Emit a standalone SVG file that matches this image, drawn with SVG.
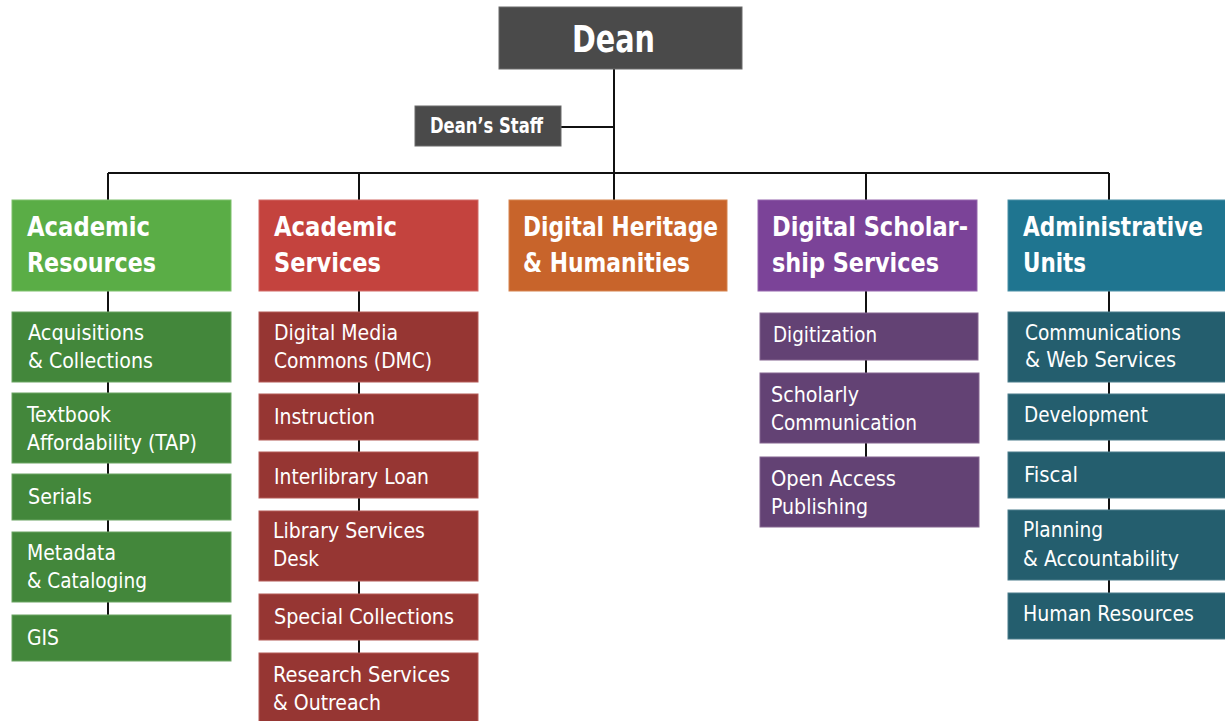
<svg xmlns="http://www.w3.org/2000/svg" width="1225" height="721" viewBox="0 0 1225 721">
<style>
text{font-family:"DejaVu Sans Condensed","Liberation Sans",sans-serif;fill:#ffffff}
.h{font-weight:bold;font-size:27px}
.s{font-size:21.5px}
.ln{stroke:#111111;stroke-width:2;fill:none}
.ar rect.sub{fill:#43873b;stroke:#6aa462}
.as rect.sub{fill:#963633;stroke:#b45a57}
.ds rect.sub{fill:#634274;stroke:#84658f}
.au rect.sub{fill:#245e6e;stroke:#4b7d8b}
</style>
<rect width="1225" height="721" fill="#ffffff"/>
<g id="connectors" class="ln">
<path d="M614 69V200M561 127H614M108 173H1109M108 173V615M359 173V653M866 173V457M1109 173V593"/>
</g>
<g id="dean"><rect x="499" y="7" width="243" height="62" fill="#4a4a4a" stroke="#6a6a6a"/><text x="572" y="52" textLength="83" lengthAdjust="spacingAndGlyphs" style="font-weight:bold;font-size:38px">Dean</text></g>
<g id="deans-staff"><rect x="415" y="106" width="146" height="40" fill="#4a4a4a" stroke="#6a6a6a"/><text x="430" y="133" textLength="113" lengthAdjust="spacingAndGlyphs" style="font-weight:bold;font-size:21.5px">Dean’s Staff</text></g>
<g id="academic-resources" class="ar">
<rect x="12" y="200" width="219" height="91" fill="#5aad46" stroke="#7cc06b"/><text class="h" x="27" y="236" textLength="123" lengthAdjust="spacingAndGlyphs">Academic</text><text class="h" x="27" y="272" textLength="129" lengthAdjust="spacingAndGlyphs">Resources</text>
</g>
<g id="acquisitions" class="ar"><rect class="sub" x="12" y="312" width="219" height="70"/><text class="s" x="28" y="340" textLength="116" lengthAdjust="spacingAndGlyphs">Acquisitions</text><text class="s" x="28" y="368" textLength="125" lengthAdjust="spacingAndGlyphs">&amp; Collections</text></g>
<g id="textbook" class="ar"><rect class="sub" x="12" y="393" width="219" height="70"/><text class="s" x="27" y="422" textLength="84" lengthAdjust="spacingAndGlyphs">Textbook</text><text class="s" x="27" y="450" textLength="170" lengthAdjust="spacingAndGlyphs">Affordability (TAP)</text></g>
<g id="serials" class="ar"><rect class="sub" x="12" y="474" width="219" height="46"/><text class="s" x="28" y="504" textLength="64" lengthAdjust="spacingAndGlyphs">Serials</text></g>
<g id="metadata" class="ar"><rect class="sub" x="12" y="532" width="219" height="70"/><text class="s" x="27" y="560" textLength="89" lengthAdjust="spacingAndGlyphs">Metadata</text><text class="s" x="27" y="588" textLength="120" lengthAdjust="spacingAndGlyphs">&amp; Cataloging</text></g>
<g id="gis" class="ar"><rect class="sub" x="12" y="615" width="219" height="46"/><text class="s" x="27" y="645" textLength="32" lengthAdjust="spacingAndGlyphs">GIS</text></g>

<g id="academic-services" class="as">
<rect x="259" y="200" width="219" height="91" fill="#c4433e" stroke="#d26a66"/><text class="h" x="274" y="236" textLength="123" lengthAdjust="spacingAndGlyphs">Academic</text><text class="h" x="274" y="272" textLength="107" lengthAdjust="spacingAndGlyphs">Services</text>
</g>
<g id="dmc" class="as"><rect class="sub" x="259" y="312" width="219" height="70"/><text class="s" x="274" y="340" textLength="124" lengthAdjust="spacingAndGlyphs">Digital Media</text><text class="s" x="274" y="368" textLength="158" lengthAdjust="spacingAndGlyphs">Commons (DMC)</text></g>
<g id="instruction" class="as"><rect class="sub" x="259" y="394" width="219" height="46"/><text class="s" x="274" y="424" textLength="101" lengthAdjust="spacingAndGlyphs">Instruction</text></g>
<g id="ill" class="as"><rect class="sub" x="259" y="452" width="219" height="46"/><text class="s" x="274" y="484" textLength="155" lengthAdjust="spacingAndGlyphs">Interlibrary Loan</text></g>
<g id="lsd" class="as"><rect class="sub" x="259" y="511" width="219" height="70"/><text class="s" x="273" y="538" textLength="152" lengthAdjust="spacingAndGlyphs">Library Services</text><text class="s" x="273" y="566" textLength="46" lengthAdjust="spacingAndGlyphs">Desk</text></g>
<g id="special" class="as"><rect class="sub" x="259" y="594" width="219" height="46"/><text class="s" x="274" y="624" textLength="180" lengthAdjust="spacingAndGlyphs">Special Collections</text></g>
<g id="research" class="as"><rect class="sub" x="259" y="653" width="219" height="72"/><text class="s" x="273" y="682" textLength="177" lengthAdjust="spacingAndGlyphs">Research Services</text><text class="s" x="273" y="710" textLength="108" lengthAdjust="spacingAndGlyphs">&amp; Outreach</text></g>

<g id="digital-heritage"><rect x="509" y="200" width="218" height="91" fill="#c8642b" stroke="#d6834f"/><text class="h" x="523" y="236" textLength="195" lengthAdjust="spacingAndGlyphs">Digital Heritage</text><text class="h" x="523" y="272" textLength="167" lengthAdjust="spacingAndGlyphs">&amp; Humanities</text></g>

<g id="digital-scholarship" class="ds">
<rect x="758" y="200" width="219" height="91" fill="#7b4398" stroke="#9567ad"/><text class="h" x="772" y="236" textLength="196" lengthAdjust="spacingAndGlyphs">Digital Scholar-</text><text class="h" x="772" y="272" textLength="167" lengthAdjust="spacingAndGlyphs">ship Services</text>
</g>
<g id="digitization" class="ds"><rect class="sub" x="760" y="313" width="218" height="47"/><text class="s" x="773" y="342" textLength="104" lengthAdjust="spacingAndGlyphs">Digitization</text></g>
<g id="scholarly" class="ds"><rect class="sub" x="760" y="373" width="219" height="70"/><text class="s" x="771" y="402" textLength="88" lengthAdjust="spacingAndGlyphs">Scholarly</text><text class="s" x="771" y="430" textLength="146" lengthAdjust="spacingAndGlyphs">Communication</text></g>
<g id="open-access" class="ds"><rect class="sub" x="760" y="457" width="219" height="70"/><text class="s" x="771" y="486" textLength="125" lengthAdjust="spacingAndGlyphs">Open Access</text><text class="s" x="771" y="514" textLength="97" lengthAdjust="spacingAndGlyphs">Publishing</text></g>

<g id="administrative" class="au">
<rect x="1008" y="200" width="222" height="91" fill="#1f7590" stroke="#4a90a6"/><text class="h" x="1023" y="236" textLength="180" lengthAdjust="spacingAndGlyphs">Administrative</text><text class="h" x="1023" y="272" textLength="63" lengthAdjust="spacingAndGlyphs">Units</text>
</g>
<g id="communications" class="au"><rect class="sub" x="1008" y="312" width="222" height="70"/><text class="s" x="1025" y="340" textLength="156" lengthAdjust="spacingAndGlyphs">Communications</text><text class="s" x="1025" y="367" textLength="151" lengthAdjust="spacingAndGlyphs">&amp; Web Services</text></g>
<g id="development" class="au"><rect class="sub" x="1008" y="394" width="222" height="46"/><text class="s" x="1024" y="422" textLength="124" lengthAdjust="spacingAndGlyphs">Development</text></g>
<g id="fiscal" class="au"><rect class="sub" x="1008" y="452" width="222" height="46"/><text class="s" x="1024" y="482" textLength="54" lengthAdjust="spacingAndGlyphs">Fiscal</text></g>
<g id="planning" class="au"><rect class="sub" x="1008" y="510" width="222" height="70"/><text class="s" x="1023" y="537" textLength="80" lengthAdjust="spacingAndGlyphs">Planning</text><text class="s" x="1023" y="566" textLength="156" lengthAdjust="spacingAndGlyphs">&amp; Accountability</text></g>
<g id="hr" class="au"><rect class="sub" x="1008" y="593" width="222" height="46"/><text class="s" x="1023" y="621" textLength="171" lengthAdjust="spacingAndGlyphs">Human Resources</text></g>
</svg>
